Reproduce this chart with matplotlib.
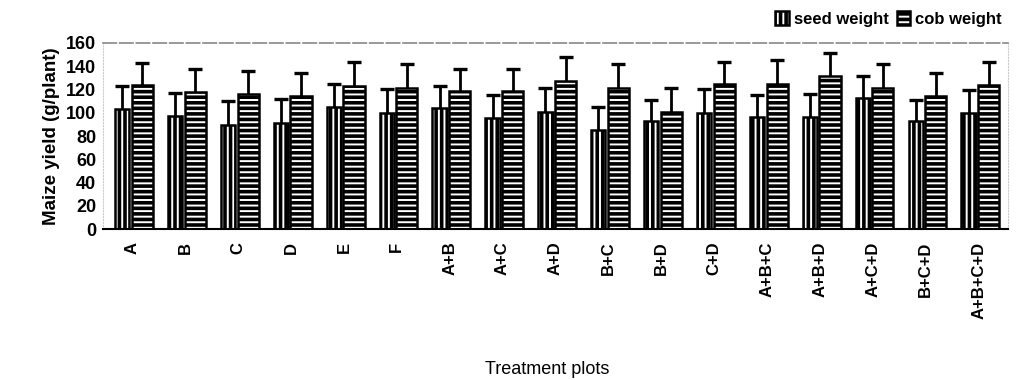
import numpy as np
import matplotlib.pyplot as plt

plt.rcParams['font.family'] = ['Liberation Sans', 'DejaVu Sans']
plt.rcParams['hatch.linewidth'] = 2.6

# Values
treatments = ['A', 'B', 'C', 'D', 'E', 'F', 'A+B', 'A+C', 'A+D', 'B+C', 'B+D',
              'C+D', 'A+B+C', 'A+B+D', 'A+C+D', 'B+C+D', 'A+B+C+D']
seed_weight = [103.5, 97, 89.5, 91, 105, 99.5, 104.5, 95.5, 101, 85, 92.5,
               99.5, 96, 96, 112.5, 92.5, 100]
seed_err = [19.5, 20, 20.5, 20.5, 20, 20.5, 18.5, 19.5, 20.5, 20, 18.5,
            20.5, 19, 20, 19, 18.5, 19.5]
cob_weight = [124, 117.5, 116, 114.5, 123, 121.5, 119, 119, 127, 121.5, 101,
              125, 125, 131.5, 121.5, 114.5, 123.5]
cob_err = [19, 20, 20, 20, 20.5, 20, 18.5, 19, 20.5, 20, 20,
           18.5, 20.5, 20, 20, 20, 20]

x = np.arange(len(treatments))

fig = plt.figure(figsize=(10.22, 3.8), dpi=100)
ax = fig.add_axes([0.101, 0.397, 0.885, 0.49])

err_kw = dict(fmt='none', ecolor='black', elinewidth=2.0, capsize=5,
              capthick=2.4, zorder=1)
ax.errorbar(x - 0.19, seed_weight, yerr=seed_err, **err_kw)
ax.errorbar(x + 0.19, cob_weight, yerr=cob_err, **err_kw)
ax.bar(x - 0.19, seed_weight, width=0.27, color='white', edgecolor='black',
       linewidth=1.8, hatch='|||', label='seed weight', zorder=2)
ax.bar(x + 0.19, cob_weight, width=0.40, color='white', edgecolor='black',
       linewidth=1.8, hatch='---', label='cob weight', zorder=2)

ax.set_xlim(-0.55, len(treatments) - 0.45)
ax.set_ylim(0, 160)
ax.set_yticks(np.arange(0, 161, 20))
ax.set_xticks(x)
ax.set_xticklabels(treatments, rotation=90, fontsize=12, fontweight='bold')
ax.tick_params(axis='y', labelsize=13, length=0, pad=5)
ax.tick_params(axis='x', length=0, pad=9)
for lbl in ax.get_yticklabels():
    lbl.set_fontweight('bold')

ax.spines['bottom'].set_color('black')
ax.spines['bottom'].set_linewidth(1.5)
ax.spines['top'].set_color('#888888')
ax.spines['top'].set_linewidth(1.2)
ax.spines['top'].set_linestyle((0, (8, 2)))
for s in ['left', 'right']:
    ax.spines[s].set_color('#cccccc')
    ax.spines[s].set_linestyle(':')

ax.set_ylabel('Maize yield (g/plant)', fontsize=13.5, fontweight='bold',
              labelpad=4)
fig.text(0.535, 0.028, 'Treatment plots', fontsize=13, ha='center',
         va='center')

fig.legend(loc='upper right', bbox_to_anchor=(0.995, 1.01), ncol=2,
           frameon=False, handlelength=0.8, handleheight=0.9,
           handletextpad=0.3, columnspacing=0.5,
           prop={'weight': 'bold', 'size': 12})

fig.savefig('out.png', dpi=100)
